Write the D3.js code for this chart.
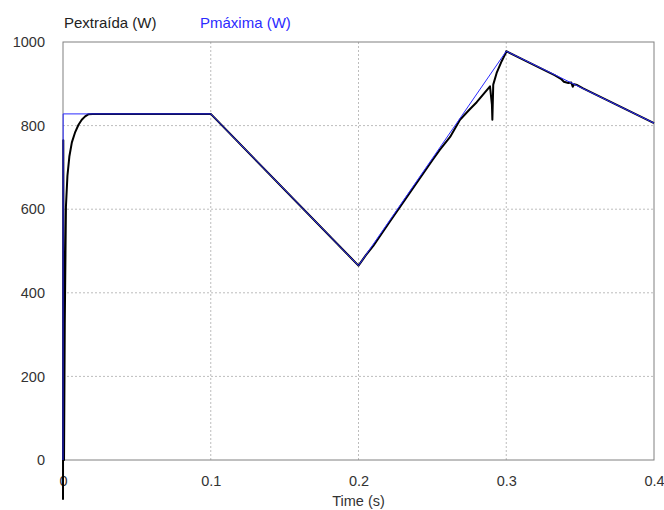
<!DOCTYPE html>
<html>
<head>
<meta charset="utf-8">
<script src="https://cdn.jsdelivr.net/npm/d3@7"></script>
<style>
  body { margin: 0; background: #fff; }
  text { font-family: "Liberation Sans", Arial, sans-serif; }
</style>
</head>
<body>
<div id="chart"></div>
<script>
// Series: [time (s), power (W)]
const pMaxima = [
  [0, 0], [0.0001, 828], [0.1, 828], [0.2, 465], [0.3, 978], [0.4, 806]
];
const pExtraida = [
  [0, -95], [0.0002, 765], [0.0005, 150], [0.0007, 0], [0.0012, 328],
  [0.002, 607], [0.003, 680], [0.0043, 726], [0.006, 760], [0.0081, 783],
  [0.0105, 802], [0.0127, 814], [0.015, 822], [0.0171, 827], [0.02, 828],
  [0.1, 828], [0.2, 465], [0.205, 490], [0.21, 512], [0.22, 564],
  [0.235, 641], [0.25, 717], [0.255, 742], [0.262, 773], [0.2687, 814],
  [0.275, 838], [0.28, 856], [0.285, 877], [0.289, 894], [0.2903, 850],
  [0.2906, 814], [0.2912, 898], [0.2935, 926], [0.2969, 954], [0.2998, 975],
  [0.3, 978], [0.333, 920], [0.337, 912], [0.339, 905], [0.342, 902],
  [0.344, 903], [0.345, 893], [0.3458, 899], [0.348, 897], [0.352, 889],
  [0.4, 806]
];
const xTicks = [0, 0.1, 0.2, 0.3, 0.4];
const yTicks = [0, 200, 400, 600, 800, 1000];
const legendLabels = ["Pextraída (W)", "Pmáxima (W)"];

const width = 664;
const height = 510;
const margin = { top: 42, right: 10, bottom: 50, left: 63 };

const svg = d3.select("#chart")
  .append("svg")
    .attr("width", width)
    .attr("height", height);

const x = d3.scaleLinear().domain([0, 0.4]).range([margin.left, width - margin.right]);
const y = d3.scaleLinear().domain([0, 1000]).range([height - margin.bottom, margin.top]);

// dotted grid
svg.append("g")
  .selectAll("line")
  .data(xTicks.slice(1, -1))
  .join("line")
    .attr("x1", d => x(d)).attr("x2", d => x(d))
    .attr("y1", y(1000)).attr("y2", y(0))
    .attr("stroke", "#bdbdbd")
    .attr("stroke-dasharray", "2,2");
svg.append("g")
  .selectAll("line")
  .data(yTicks.slice(1, -1))
  .join("line")
    .attr("x1", x(0)).attr("x2", x(0.4))
    .attr("y1", d => y(d)).attr("y2", d => y(d))
    .attr("stroke", "#bdbdbd")
    .attr("stroke-dasharray", "2,2");

// frame
svg.append("rect")
  .attr("x", x(0)).attr("y", y(1000))
  .attr("width", x(0.4) - x(0)).attr("height", y(0) - y(1000))
  .attr("fill", "none")
  .attr("stroke", "#808080");

// axes labels
const xAxis = d3.axisBottom(x).tickValues(xTicks).tickSize(0).tickPadding(16)
  .tickFormat(d => d === 0 ? "0" : d3.format(".1f")(d));
svg.append("g")
  .attr("transform", `translate(0,${y(0)})`)
  .call(xAxis)
  .call(g => g.select(".domain").remove())
  .selectAll("text")
    .attr("font-size", 14.5)
    .attr("fill", "#333")
    .attr("font-family", "Liberation Sans, Arial, sans-serif");

const yAxis = d3.axisLeft(y).tickValues(yTicks).tickSize(0).tickPadding(18)
  .tickFormat(d3.format("d"));
svg.append("g")
  .attr("transform", `translate(${x(0)},0)`)
  .call(yAxis)
  .call(g => g.select(".domain").remove())
  .selectAll("text")
    .attr("font-size", 14.5)
    .attr("fill", "#333")
    .attr("font-family", "Liberation Sans, Arial, sans-serif");

svg.append("text")
  .attr("x", x(0.2))
  .attr("y", 506)
  .attr("text-anchor", "middle")
  .attr("font-size", 14.5)
  .attr("fill", "#333")
  .text("Time (s)");

// lines
const line = d3.line().x(d => x(d[0])).y(d => y(d[1]));
svg.append("path")
  .datum(pExtraida)
  .attr("d", line)
  .attr("fill", "none")
  .attr("stroke", "#000")
  .attr("stroke-width", 2)
  .attr("stroke-linejoin", "round");
svg.append("path")
  .datum(pMaxima)
  .attr("d", line)
  .attr("fill", "none")
  .attr("stroke", "#2b2bff")
  .attr("stroke-width", 1);

// legend
svg.append("text")
  .attr("x", 64).attr("y", 28)
  .attr("font-size", 15)
  .attr("fill", "#222")
  .text(legendLabels[0]);
svg.append("text")
  .attr("x", 200).attr("y", 28)
  .attr("font-size", 15)
  .attr("fill", "#2b2bff")
  .text(legendLabels[1]);
</script>
</body>
</html>
